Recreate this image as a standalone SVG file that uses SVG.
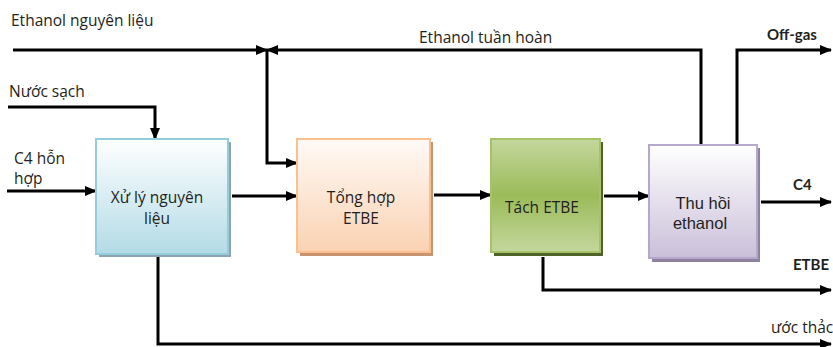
<svg xmlns="http://www.w3.org/2000/svg" width="833" height="347" viewBox="0 0 833 347">
<defs>
<linearGradient id="gBlue" x1="0" y1="0" x2="0" y2="1"><stop offset="0" stop-color="#ffffff"/><stop offset="1" stop-color="#b3dbe6"/></linearGradient>
<linearGradient id="gOrange" x1="0" y1="0" x2="0" y2="1"><stop offset="0" stop-color="#fffaf6"/><stop offset="1" stop-color="#fad2b2"/></linearGradient>
<linearGradient id="gGreen" x1="0" y1="0" x2="0" y2="1"><stop offset="0" stop-color="#c4d79d"/><stop offset="0.5" stop-color="#9bbb59"/><stop offset="1" stop-color="#c4d79d"/></linearGradient>
<linearGradient id="gPurple" x1="0" y1="0" x2="0" y2="1"><stop offset="0" stop-color="#ffffff"/><stop offset="1" stop-color="#cabfd9"/></linearGradient>
<marker id="arr" viewBox="0 0 12 10" refX="11" refY="5" markerWidth="12" markerHeight="10" markerUnits="userSpaceOnUse" orient="auto"><path d="M0,0 L12,5 L0,10 z" fill="#000"/></marker>
</defs>
<style>
.ln{fill:none;stroke:#000;stroke-width:3}
.a{marker-end:url(#arr)}
.t{font-family:"Open Sans","Liberation Sans",sans-serif;font-size:15.5px;fill:#231f20}
.bt{font-family:"Open Sans","Liberation Sans",sans-serif;font-size:15.5px;fill:#231f20;text-anchor:middle}
.at{font-family:"Liberation Sans",Arial,sans-serif;font-size:16.5px;fill:#231f20;text-anchor:middle}
.b{font-family:Lato,"Liberation Sans",sans-serif;font-weight:bold;font-size:15px;fill:#231f20}
</style>
<rect width="833" height="347" fill="#fff"/>
<g id="connectors">
<path class="ln a" d="M13,50 H267"/>
<path class="ln a" d="M701,145 V50 H267"/>
<path class="ln a" d="M267,50 V163 H297"/>
<path class="ln a" d="M8,107 H155 V139"/>
<path class="ln a" d="M7,191 H96"/>
<path class="ln a" d="M232,196 H297"/>
<path class="ln a" d="M434,195 H491"/>
<path class="ln a" d="M604,196 H649"/>
<path class="ln a" d="M761,202 H831"/>
<path class="ln a" d="M737,145 V50 H831"/>
<path class="ln a" d="M543,257 V290 H831"/>
<path class="ln a" d="M158,257 V344 H831"/>
</g>
<g id="labels">
<text class="t" x="11" y="26">Ethanol nguyên liệu</text>
<text class="t" x="9" y="97">Nước sạch</text>
<text class="t" x="14" y="164">C4 hỗn</text>
<text class="t" x="14" y="184">hợp</text>
<text class="t" x="419" y="43">Ethanol tuần hoàn</text>
<text class="b" x="767" y="40">Off-gas</text>
<text class="b" x="793" y="190">C4</text>
<text class="b" x="793" y="270">ETBE</text>
<text class="t" x="771" y="333">ước thảc</text>
</g>
<g id="node-xuly">
<rect x="99" y="142" width="132" height="115" fill="#8ea4b3"/>
<rect x="96" y="139" width="132" height="115" fill="url(#gBlue)" stroke="#94cddc" stroke-width="2"/>
<text class="bt" x="157" y="203">Xử lý nguyên</text>
<text class="bt" x="157" y="224">liệu</text>
</g>
<g id="node-tonghop">
<rect x="300" y="142" width="133" height="114" fill="#c8936f"/>
<rect x="297" y="139" width="133" height="113" fill="url(#gOrange)" stroke="#fac08f" stroke-width="2"/>
<text class="bt" x="361" y="203">Tổng hợp</text>
<text class="bt" x="361" y="224">ETBE</text>
</g>
<g id="node-tach">
<rect x="494" y="142" width="109" height="114" fill="#4f6228"/>
<rect x="491" y="139" width="109" height="113" fill="url(#gGreen)" stroke="#a6c36a" stroke-width="2"/>
<text class="bt" x="542" y="213">Tách ETBE</text>
</g>
<g id="node-thuhoi">
<rect x="652" y="148" width="108" height="114" fill="#8d83a0"/>
<rect x="649" y="145" width="108" height="113" fill="url(#gPurple)" stroke="#b6a8cc" stroke-width="2"/>
<text class="at" x="703" y="209">Thu hồi</text>
<text class="at" x="700" y="229">ethanol</text>
</g>
</svg>
